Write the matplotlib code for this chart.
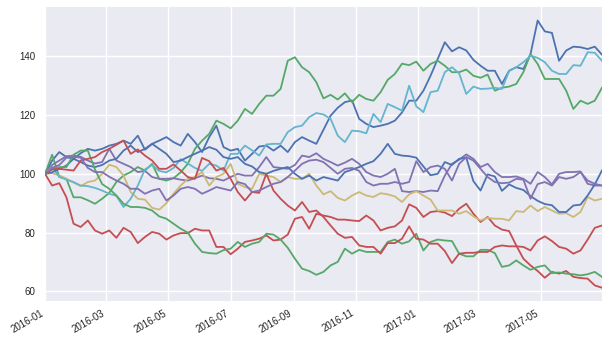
import numpy as np
import pandas as pd
import matplotlib
matplotlib.use("Agg")
import matplotlib.pyplot as plt
import matplotlib.dates as mdates

# weekly series
dates = pd.date_range("2016-01-01", periods=79, freq="7D")

blue_a = [100, 104.5, 107.4, 105.7, 105.1, 107, 108.5, 107.9, 108.5, 109.6,
          110.2, 111.3, 110.2, 113, 108.2, 110.2, 111.3, 112.5, 110.8, 109.6,
          113.6, 110.8, 107.4, 112.5, 116.4, 109.1, 107.9, 108.5, 104.5, 106.8,
          109.3, 109.6, 107.9, 109.6, 107.4, 110.8, 112.5, 111.3, 110.2, 115,
          119.8, 122.5, 124.4, 125, 118.7, 117, 115.9, 116.4, 117, 118.1,
          120.9, 124.9, 124.9, 128.3, 133.4, 139.1, 144.8, 141.7, 143.1, 142,
          138.8, 136.8, 135.1, 135.1, 130.6, 135.1, 136.3, 135.7, 140.8, 152.2,
          148.5, 148, 138.5, 142, 143.3, 143.1, 142.5, 143.3, 140.6]
green_a = [100, 106.5, 98.9, 98.3, 92, 92, 91, 89.8, 91.5, 93.5,
           97.2, 99.4, 100.6, 102.3, 101.1, 103.4, 98.3, 97.7, 98.5, 100.5,
           103.4, 108.5, 111.3, 113.6, 118.1, 117, 115.5, 118.1, 122.1, 120.4,
           123.8, 126.6, 126.6, 128.9, 138.5, 139.7, 136.3, 134.6, 131.2, 125.7,
           126.9, 125.3, 127.4, 124.4, 126.9, 125.5, 124.9, 127.8, 132, 134,
           137.5, 137, 138.2, 135.1, 137.4, 138.5, 136.8, 134.6, 134.6, 135.5,
           133.4, 132.7, 133.8, 128.3, 129.3, 129.7, 130.6, 134.6, 140.8, 137.4,
           132.3, 132.3, 132.3, 128.3, 122.1, 124.9, 123.8, 124.9, 129.3]
red_a = [100, 96, 96.8, 92, 83, 81.9, 84.1, 80.7, 79.6, 80.7,
         78.2, 81.6, 80.2, 76.4, 78.5, 80.2, 79.6, 77.6, 79, 79.8,
         79.8, 81.3, 80.7, 80.7, 75.1, 75.1, 72.6, 74.5, 76.8, 77.3,
         77.9, 79, 77.3, 77.6, 79.3, 84.7, 85.3, 81.3, 86.4, 85.8,
         85.3, 84.4, 84.4, 84.1, 83.9, 85.8, 84.1, 80.7, 81.6, 82.1,
         84.1, 89.6, 88.4, 85.3, 87, 87.3, 86.8, 85.6, 88.1, 89.8,
         86.4, 83.6, 85.3, 82.4, 81, 80.5, 75.6, 71.1, 68.8, 66.9,
         64.6, 66.6, 66, 66.9, 64.9, 64.5, 64.3, 62, 61.2]
purple_a = [100, 103, 104.5, 106, 106.2, 105.8, 104.5, 103.5, 104, 108.5,
            104.5, 103.4, 102.3, 100.6, 101, 98.9, 98.3, 98.3, 98.5, 98,
            97.7, 98.5, 99.4, 98.5, 98.3, 97.7, 98.9, 100, 99.4, 99.4,
            102.3, 105.7, 102.3, 102, 101.7, 103, 106.2, 105.7, 107, 105.1,
            104, 102.8, 103.8, 105.1, 103.4, 100.6, 99.4, 98.9, 100, 101.7,
            94.1, 93.8, 94.1, 93.8, 94.3, 94.1, 99.4, 103.4, 104.8, 106.6,
            105.1, 102.3, 103.4, 100.6, 98.9, 98.9, 99.1, 98.3, 96.6, 100.6,
            98.9, 96.4, 100, 100.6, 100.6, 100.8, 96.6, 96, 96]
yellow = [100, 100.2, 99.5, 98.3, 97, 95.8, 97.2, 97.7, 100, 103.1,
          102.3, 99.4, 93.8, 91.5, 91.2, 88.4, 87.8, 90, 93.2, 96,
          98.3, 98.9, 100.6, 96, 98.9, 100, 103.4, 96.6, 95.5, 94.9,
          100, 99.4, 98.9, 97.2, 98.9, 98.3, 98.3, 100, 96, 93,
          94.1, 91.8, 90.9, 92.6, 93.8, 92.6, 92.1, 93.4, 93, 92.3,
          90.4, 93, 94.1, 92.6, 91.2, 87.5, 87.5, 87.5, 86.4, 87.3,
          85.5, 84.1, 85, 84.7, 84.7, 84.1, 87.3, 87, 89.2, 87.3,
          88.7, 87.5, 86.4, 86.6, 85.3, 87, 92.1, 90.9, 91.5]
cyan = [100, 102.3, 99, 98, 97.2, 96, 95.8, 95.2, 94.3, 93.2,
        92.5, 88.7, 91.5, 96, 101.5, 103, 101, 100.5, 102, 105,
        103.5, 102, 101, 103.4, 102.8, 101.1, 106.8, 106.8, 109.6, 108,
        106.2, 110, 110.2, 110.2, 114.2, 115.9, 116.4, 119.3, 120.7, 120.2,
        118.7, 113, 110.8, 114.7, 114.5, 113.8, 120.4, 117.6, 123.8, 122.7,
        121.5, 130, 123, 121, 127.8, 128.3, 134.6, 136.3, 134.2, 127.2,
        129.7, 128.9, 129, 129.3, 128.9, 135, 136.3, 138, 140.2, 139.5,
        138, 135.1, 134, 134, 137, 136.8, 141.4, 141.2, 138.5]
blue_b = [100, 100.5, 101.7, 102.8, 105.1, 104, 102.8, 102.3, 103, 104.5,
          105.1, 107.9, 109.6, 107.4, 108.5, 110.2, 108.5, 106.8, 104, 104.5,
          105.7, 106.8, 107.9, 109.1, 108.2, 105.7, 105.1, 105.7, 103.4, 102.5,
          100.6, 100, 101, 101.7, 102.3, 100, 98.3, 99.4, 97.7, 98.9,
          98.3, 97.7, 100.6, 101.4, 102.3, 103.4, 104.3, 106.8, 110.2, 106.8,
          106.2, 106, 105.5, 102.5, 99.5, 100, 104, 103, 105.1, 105.5,
          97.5, 94.3, 99.8, 99.1, 94.2, 96.4, 95.2, 94.5, 92.4, 90.8,
          89.7, 89.3, 87, 87, 89.2, 89.5, 92.6, 96.4, 101.1]
green_b = [100, 101.5, 102.3, 102.3, 106.5, 107.9, 107.9, 101.5, 96.5, 94.9,
           92.6, 89.8, 88.7, 88.7, 88.4, 87.5, 85.5, 84.7, 83, 81.3,
           80, 76.2, 73.4, 73, 72.8, 74, 74.5, 76.8, 75.1, 76.2,
           76.8, 79.6, 79.3, 77.6, 74.8, 71.1, 67.7, 66.9, 65.6, 66.6,
           68.8, 70, 74.5, 72.8, 74.1, 73.4, 73.4, 73.4, 76.8, 77.6,
           76.2, 77, 79.6, 73.9, 76.8, 77.6, 77.3, 77.1, 72.8, 71.9,
           71.9, 74.1, 74.1, 73, 68.3, 68.8, 70.5, 68.8, 67.3, 68.3,
           68.8, 66.2, 66.4, 66, 65.8, 65.4, 65.8, 66.6, 64.9]
red_b = [100, 101.5, 101.7, 101.4, 101.1, 104.5, 105.1, 105.7, 107.4, 108.5,
         109.9, 111.3, 106.8, 108.3, 106.2, 104.5, 101.7, 101.7, 103.2, 101.1,
         98.9, 98.3, 105.4, 104.3, 101.1, 102, 98.3, 93.8, 90.9, 93.8,
         93.5, 100, 94.3, 91.5, 89.2, 87.5, 90.4, 87, 87.5, 85.3,
         82.4, 79.6, 78.2, 78.5, 75.6, 75.1, 75.1, 72.8, 76.4, 76.4,
         77.9, 82.1, 77.9, 77.6, 76.2, 76.2, 73.7, 69.6, 72.8, 73.1,
         73.1, 73.4, 73.4, 75.1, 75.6, 75.3, 75.3, 75.1, 73.9, 77.3,
         78.7, 77.1, 75.1, 74.5, 72.8, 73.9, 77.6, 81.6, 82.4]
purple_b = [100, 102, 103, 105.5, 105.8, 105.5, 102, 100.6, 100.6, 99,
            97.7, 96.6, 94.9, 94.9, 93.2, 94.3, 94.9, 90.9, 92.6, 94.9,
            95.5, 94.9, 93.2, 94.3, 95.5, 94.9, 94.3, 97.2, 96.5, 93.8,
            94.3, 95.5, 96.6, 97.2, 98.9, 101.1, 103.4, 104.5, 104.8, 104,
            102, 100, 101.7, 102, 101, 97.2, 96, 96.6, 96.6, 97.2,
            96.6, 97.2, 104.3, 100.6, 102.3, 102.8, 101.7, 97.7, 103.4, 105.7,
            104.5, 101.7, 98.9, 97.2, 96.8, 97, 98.3, 98, 91.5, 96.5,
            97.2, 96, 98.9, 98.3, 98.9, 100.6, 97.7, 96.6, 96]

series = [blue_a, green_a, red_a, purple_a, yellow, cyan,
          blue_b, green_b, red_b, purple_b]
# old seaborn "deep" palette
palette = ["#4C72B0", "#55A868", "#C44E52", "#8172B2", "#CCB974", "#64B5CD"]

plt.rcParams["font.family"] = ["Liberation Sans", "DejaVu Sans"]

fig = plt.figure(figsize=(6.08, 3.41), dpi=100)
ax = fig.add_axes([0.074, 0.117, 0.916, 0.862])
ax.set_facecolor("#EAEAF2")
for s in ax.spines.values():
    s.set_visible(False)

for k, vals in enumerate(series):
    ax.plot(dates, vals, color=palette[k % 6], lw=1.3)

ax.set_xlim(dates[0], dates[-1])
ax.set_ylim(56.65, 156.75)
ax.set_yticks([60, 80, 100, 120, 140])
ax.xaxis.set_major_locator(mdates.MonthLocator(bymonth=[1, 3, 5, 7, 9, 11]))
ax.xaxis.set_major_formatter(mdates.DateFormatter("%Y-%m"))
ax.grid(True, color="white", lw=1.0)
ax.set_axisbelow(True)
ax.tick_params(length=0, labelsize=7, colors="#262626")
ax.tick_params(axis="y", pad=7)
ax.tick_params(axis="x", pad=5)
for lab in ax.get_xticklabels():
    lab.set_rotation(30)
    lab.set_ha("right")

fig.savefig("out.png", dpi=100, facecolor="white")
